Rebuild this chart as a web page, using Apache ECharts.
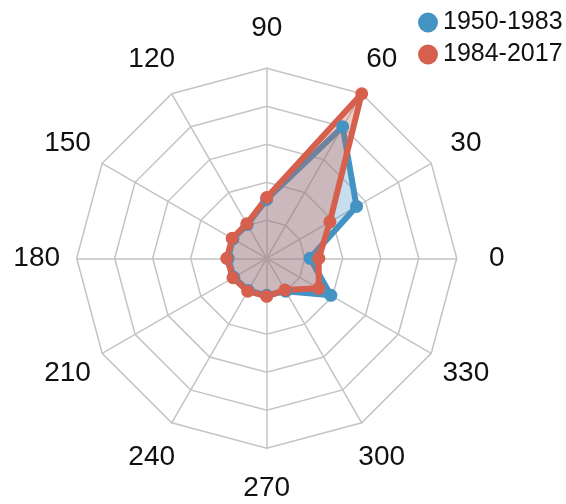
<!DOCTYPE html>
<html>
<head>
<meta charset="utf-8">
<script src="https://cdn.jsdelivr.net/npm/echarts@6/dist/echarts.min.js"></script>
<style>
  html, body { margin: 0; padding: 0; background: #fff; }
  #chart { width: 566px; height: 504px; }
</style>
</head>
<body>
<div id="chart"></div>
<script>
// Direction bins (degrees), laid out counter-clockwise from east
const directions = ['0', '30', '60', '90', '120', '150', '180', '210', '240', '270', '300', '330'];
const seriesNames = ['1950-1983', '1984-2017'];
const values1950 = [22.8, 54.6, 80, 31, 20.5, 20.5, 20.3, 20, 19.5, 19.5, 20, 39];
const values1984 = [27.4, 38.4, 100, 32, 21, 21, 21, 20.5, 20, 20, 19.2, 31.6];
const ringMax = 100;

const BLUE = '#4393c3';
const RED = '#d6604d';

const cx = 266.7, cy = 258.3, R = 190, labelR = 230;

const chart = echarts.init(document.getElementById('chart'), null, { renderer: 'canvas' });

// Direction labels sit centred on a circle outside the outer ring
const labelGraphics = directions.map((d, i) => {
  const a = (i * 360 / directions.length) * Math.PI / 180;
  return {
    type: 'text',
    x: cx + labelR * Math.cos(a),
    y: cy - labelR * Math.sin(a),
    style: {
      text: d,
      fill: '#111',
      font: '28px "Liberation Sans", Arial, sans-serif',
      textAlign: 'center',
      textVerticalAlign: 'middle'
    },
    silent: true
  };
});

chart.setOption({
  animation: false,
  backgroundColor: '#ffffff',
  legend: {
    data: seriesNames,
    orient: 'vertical',
    left: 413,
    top: 5,
    icon: 'circle',
    itemWidth: 20,
    itemHeight: 20,
    itemGap: 7,
    textStyle: { fontSize: 25, color: '#111', fontFamily: '"Liberation Sans", Arial, sans-serif' }
  },
  radar: {
    center: [cx, cy],
    radius: R,
    startAngle: 0,
    shape: 'polygon',
    splitNumber: 5,
    indicator: directions.map(d => ({ name: d, min: 0, max: ringMax })),
    axisName: { show: false },
    axisLine: { lineStyle: { color: '#c4c4c4', width: 1.5 } },
    splitLine: { lineStyle: { color: '#c4c4c4', width: 1.5 } },
    splitArea: { show: false }
  },
  graphic: labelGraphics,
  series: [
    {
      name: seriesNames[0],
      type: 'radar',
      symbol: 'circle',
      symbolSize: 13,
      itemStyle: { color: BLUE },
      lineStyle: { color: BLUE, width: 6 },
      areaStyle: { color: BLUE, opacity: 0.3 },
      data: [{ value: values1950, name: seriesNames[0] }]
    },
    {
      name: seriesNames[1],
      type: 'radar',
      symbol: 'circle',
      symbolSize: 13,
      itemStyle: { color: RED },
      lineStyle: { color: RED, width: 6 },
      areaStyle: { color: RED, opacity: 0.3 },
      data: [{ value: values1984, name: seriesNames[1] }]
    }
  ]
});
</script>
</body>
</html>
